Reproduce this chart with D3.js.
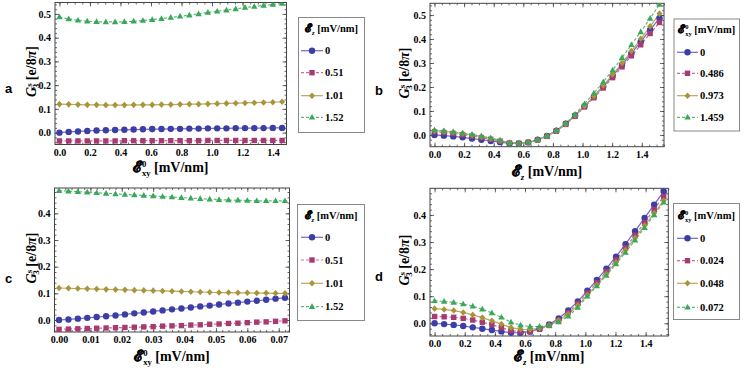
<!DOCTYPE html>
<html><head><meta charset="utf-8">
<script src="https://cdn.jsdelivr.net/npm/d3@7"></script>
<style>body{margin:0;background:#fff}svg{display:block}
svg text{font-family:"Liberation Serif","DejaVu Serif",serif;font-weight:bold}
svg text.sans{font-family:"Liberation Sans","DejaVu Sans",sans-serif}
</style></head>
<body><svg id="chart" width="747" height="374"></svg>
<script>
// ---------- data ----------
const exyA = [0,0.0608,0.1216,0.1824,0.2432,0.304,0.3648,0.4256,0.4864,0.5472,0.608,0.6688,0.7296,0.7904,0.8512,0.912,0.9728,1.0336,1.0944,1.1552,1.216,1.2768,1.3376,1.3984,1.4592];
const ezB = [0,0.0633,0.1267,0.19,0.2533,0.3167,0.38,0.4433,0.5067,0.57,0.6333,0.6967,0.76,0.8233,0.8867,0.95,1.0133,1.0767,1.14,1.2033,1.2667,1.33,1.3933,1.4567,1.52];
const exyC = [0,0.003,0.006,0.009,0.012,0.015,0.018,0.021,0.024,0.027,0.03,0.033,0.036,0.039,0.042,0.045,0.048,0.051,0.054,0.057,0.06,0.063,0.066,0.069,0.072];
const ezD = ezB;

const labelsA = ["0","0.51","1.01","1.52"];
const labelsB = ["0","0.486","0.973","1.459"];
const labelsC = ["0","0.51","1.01","1.52"];
const labelsD = ["0","0.024","0.048","0.072"];

const a0 = [0.000,0.003,0.005,0.007,0.009,0.010,0.011,0.012,0.013,0.014,0.015,0.015,0.016,0.016,0.017,0.017,0.018,0.018,0.018,0.019,0.019,0.019,0.019,0.020,0.020];
const a1 = [-0.035,-0.035,-0.035,-0.035,-0.035,-0.035,-0.035,-0.034,-0.034,-0.034,-0.034,-0.034,-0.034,-0.034,-0.034,-0.034,-0.033,-0.033,-0.033,-0.033,-0.033,-0.033,-0.033,-0.033,-0.033];
const a2 = [0.120,0.119,0.118,0.117,0.117,0.116,0.116,0.116,0.117,0.117,0.117,0.118,0.118,0.119,0.120,0.120,0.121,0.122,0.123,0.124,0.125,0.126,0.127,0.128,0.130];
const a3 = [0.487,0.479,0.473,0.469,0.467,0.466,0.466,0.467,0.469,0.472,0.476,0.480,0.485,0.490,0.495,0.500,0.506,0.511,0.516,0.521,0.527,0.531,0.536,0.540,0.544];

const b0 = [0.000,-0.003,-0.006,-0.010,-0.015,-0.020,-0.025,-0.030,-0.035,-0.035,-0.031,-0.020,-0.004,0.018,0.047,0.081,0.120,0.160,0.202,0.246,0.292,0.340,0.389,0.438,0.487];
const b1 = [0.013,0.010,0.006,0.001,-0.005,-0.011,-0.018,-0.026,-0.034,-0.035,-0.031,-0.021,-0.006,0.016,0.044,0.078,0.117,0.155,0.196,0.239,0.284,0.330,0.376,0.423,0.469];
const b2 = [0.018,0.015,0.011,0.006,0.000,-0.007,-0.015,-0.024,-0.033,-0.035,-0.031,-0.021,-0.005,0.017,0.046,0.081,0.121,0.162,0.206,0.252,0.300,0.350,0.401,0.453,0.506];
const b3 = [0.020,0.017,0.013,0.008,0.002,-0.005,-0.013,-0.022,-0.033,-0.034,-0.030,-0.020,-0.004,0.019,0.049,0.086,0.130,0.174,0.221,0.270,0.322,0.376,0.430,0.486,0.544];

const c0 = [0.000,0.002,0.005,0.008,0.011,0.014,0.017,0.021,0.025,0.028,0.032,0.036,0.040,0.043,0.047,0.051,0.054,0.058,0.062,0.065,0.069,0.072,0.076,0.080,0.083];
const c1 = [-0.035,-0.034,-0.033,-0.032,-0.031,-0.030,-0.029,-0.028,-0.027,-0.026,-0.025,-0.023,-0.022,-0.021,-0.019,-0.018,-0.016,-0.015,-0.013,-0.012,-0.010,-0.008,-0.007,-0.005,-0.003];
const c2 = [0.120,0.119,0.118,0.117,0.116,0.115,0.114,0.113,0.112,0.111,0.110,0.109,0.108,0.107,0.106,0.105,0.104,0.103,0.103,0.102,0.102,0.101,0.101,0.100,0.100];
const c3 = [0.485,0.483,0.481,0.479,0.477,0.475,0.473,0.471,0.469,0.467,0.465,0.463,0.461,0.459,0.457,0.455,0.453,0.451,0.450,0.449,0.448,0.447,0.447,0.447,0.447];

const dd0 = b0;
const dd1 = [0.025,0.024,0.022,0.018,0.012,0.004,-0.005,-0.016,-0.027,-0.031,-0.030,-0.022,-0.008,0.012,0.039,0.073,0.112,0.150,0.191,0.234,0.279,0.325,0.372,0.420,0.469];
const dd2 = [0.054,0.051,0.047,0.040,0.031,0.021,0.009,-0.003,-0.016,-0.022,-0.023,-0.018,-0.007,0.010,0.034,0.066,0.104,0.142,0.183,0.225,0.270,0.315,0.361,0.407,0.453];
const dd3 = [0.083,0.081,0.077,0.071,0.063,0.052,0.038,0.022,0.004,-0.007,-0.012,-0.012,-0.007,0.005,0.026,0.058,0.100,0.138,0.177,0.219,0.262,0.307,0.353,0.400,0.447];

// ---------- styles ----------
const markerCol = ['#3d3da6','#a83a72','#a8953a','#3aa85a'];
const lineCol   = ['#6a6ac4','#c070a0','#b8a860','#60b878'];
const dashes    = [null,'3,2',null,'3,2'];
const shapes    = ['circle','square','diamond','triangle'];

const svg = d3.select('#chart');

function marker(g, shape, x, y, col) {
  if (shape==='circle') g.append('circle').attr('cx',x).attr('cy',y).attr('r',3.2).attr('fill',col);
  else if (shape==='square') g.append('rect').attr('x',x-2.7).attr('y',y-2.7).attr('width',5.4).attr('height',5.4).attr('fill',col);
  else if (shape==='diamond') g.append('path').attr('d',`M${x},${y-3.3}L${x+3},${y}L${x},${y+3.3}L${x-3},${y}Z`).attr('fill',col);
  else g.append('path').attr('d',`M${x},${y-3.4}L${x+3.2},${y+2.3}L${x-3.2},${y+2.3}Z`).attr('fill',col);
}

function eLabel(t, kind, fs) {
  t.append('tspan').text('ℰ').style('font-size',(fs*1.1)+'px').attr('stroke','#000').attr('stroke-width',0.5);
  if (kind==='z') {
    t.append('tspan').text('z').attr('dy', fs*0.25).style('font-size', (fs*0.62)+'px').style('font-style','italic');
    t.append('tspan').text(' [mV/nm]').attr('dy', -fs*0.25);
  } else {
    t.append('tspan').text('0').attr('dy', -fs*0.36).style('font-size', (fs*0.62)+'px');
    t.append('tspan').text('xy').attr('dx', -fs*0.32).attr('dy', fs*0.66).style('font-size', (fs*0.62)+'px');
    t.append('tspan').text(' [mV/nm]').attr('dy', -fs*0.30);
  }
}

function panel(cfg) {
  const g = svg.append('g');
  const x = d3.scaleLinear().domain(cfg.xDom).range([cfg.fx0, cfg.fx1]);
  const y = d3.scaleLinear().domain(cfg.yDom).range([cfg.fy1, cfg.fy0]);
  const id = 'clip'+cfg.name;
  svg.append('clipPath').attr('id',id).append('rect')
     .attr('x',cfg.fx0).attr('y',cfg.fy0).attr('width',cfg.fx1-cfg.fx0).attr('height',cfg.fy1-cfg.fy0);

  const xMinor = d3.range(Math.ceil(cfg.xDom[0]/cfg.xMinorStep), Math.floor(cfg.xDom[1]/cfg.xMinorStep)+1).map(k=>+(k*cfg.xMinorStep).toFixed(5));
  const yMinor = d3.range(Math.ceil(cfg.yDom[0]/0.02), Math.floor(cfg.yDom[1]/0.02)+1).map(k=>+(k*0.02).toFixed(5));
  const axStyle = sel => { sel.attr('font-family',null).attr('font-size',null);
     sel.select('.domain').remove(); sel.selectAll('line').attr('stroke','#444').attr('stroke-width',0.8);
     sel.selectAll('text').style('font-size','10px').attr('fill','#000'); };
  const mk = (axis, vals, size, lab, tr) => {
    const a = axis.tickValues(vals).tickSize(size).tickPadding(4);
    if (!lab) a.tickFormat('');
    g.append('g').attr('transform',tr).call(a).call(axStyle);
  };
  mk(d3.axisBottom(x).tickFormat(d3.format(cfg.xFmt)), cfg.xTicks, -4, true, `translate(0,${cfg.fy1})`);
  mk(d3.axisBottom(x), xMinor, -2, false, `translate(0,${cfg.fy1})`);
  mk(d3.axisTop(x), cfg.xTicks, -4, false, `translate(0,${cfg.fy0})`);
  mk(d3.axisTop(x), xMinor, -2, false, `translate(0,${cfg.fy0})`);
  mk(d3.axisLeft(y).tickFormat(d3.format('.1f')), cfg.yTicks, -4, true, `translate(${cfg.fx0},0)`);
  mk(d3.axisLeft(y), yMinor, -2, false, `translate(${cfg.fx0},0)`);
  mk(d3.axisRight(y), cfg.yTicks, -4, false, `translate(${cfg.fx1},0)`);
  mk(d3.axisRight(y), yMinor, -2, false, `translate(${cfg.fx1},0)`);

  g.append('rect').attr('x',cfg.fx0).attr('y',cfg.fy0).attr('width',cfg.fx1-cfg.fx0).attr('height',cfg.fy1-cfg.fy0)
   .attr('fill','none').attr('stroke','#444').attr('stroke-width',1);

  const plot = g.append('g').attr('clip-path',`url(#${id})`);
  cfg.series.forEach((s,i)=>{
    const line = d3.line().x((d,k)=>x(cfg.xs[k])).y(d=>y(d));
    plot.append('path').datum(s).attr('d',line).attr('fill','none')
      .attr('stroke',lineCol[i]).attr('stroke-width',1.2).attr('stroke-dasharray',dashes[i]);
  });
  cfg.series.forEach((s,i)=>{
    s.forEach((v,k)=>marker(plot, shapes[i], x(cfg.xs[k]), y(v), markerCol[i]));
  });

  const xt = g.append('text').attr('x',(cfg.fx0+cfg.fx1)/2).attr('y',cfg.xTitleY).attr('text-anchor','middle')
    .style('font-size','14px');
  eLabel(xt, cfg.xKind, 14);
  const yt = g.append('text').attr('transform',`translate(${cfg.yTitleX},${(cfg.fy0+cfg.fy1)/2 - 2}) rotate(-90)`)
    .attr('text-anchor','middle').style('font-size','14px');
  yt.append('tspan').text('G').style('font-style','italic');
  yt.append('tspan').text('s').attr('dy',-4.5).style('font-size','9px');
  yt.append('tspan').text('3').attr('dx',-4.8).attr('dy',7.5).style('font-size','9px');
  yt.append('tspan').text(' [e/8').attr('dy',-3);
  yt.append('tspan').text('π').style('font-style','italic');
  yt.append('tspan').text(']');

  g.append('text').attr('class','sans').attr('x',cfg.lab[1]).attr('y',cfg.lab[2]).text(cfg.lab[0])
    .style('font-size','13px');

  const L = cfg.legend;
  g.append('rect').attr('x',L.x0).attr('y',L.y0).attr('width',L.x1-L.x0).attr('height',L.y1-L.y0)
   .attr('fill','#fff').attr('stroke','#888').attr('stroke-width',1);
  const lt = g.append('text').attr('x',(L.x0+L.x1)/2).attr('y',L.titleY).attr('text-anchor','middle')
    .style('font-size','10.5px');
  eLabel(lt, L.kind, 10.5);
  cfg.labels.forEach((lab,i)=>{
    const yy = L.ys[i];
    g.append('line').attr('x1',L.lx0).attr('x2',L.lx1).attr('y1',yy).attr('y2',yy)
      .attr('stroke',lineCol[i]).attr('stroke-width',1.2).attr('stroke-dasharray',dashes[i]);
    marker(g, shapes[i], (L.lx0+L.lx1)/2, yy, markerCol[i]);
    g.append('text').attr('x',L.lx1+2).attr('y',yy+3.5).text(lab).style('font-size','10.5px');
  });
}

const tA = [0,0.2,0.4,0.6,0.8,1.0,1.2,1.4];
const tC = [0,0.01,0.02,0.03,0.04,0.05,0.06,0.07];

panel({name:'a', fx0:55, fx1:286.5, fy0:2.5, fy1:144.5, xDom:[-0.029,1.488], yDom:[-0.050,0.548],
  xTicks:tA, xMinorStep:0.05, yTicks:[0,0.1,0.2,0.3,0.4,0.5], xFmt:'.1f', xs:exyA, series:[a0,a1,a2,a3],
  xKind:'xy', xTitleY:172, yTitleX:36, lab:['a',5,93], labels:labelsA,
  legend:{x0:298.5,x1:364.5,y0:17.5,y1:132.5,titleY:32,kind:'z',ys:[50.7,72.7,95.7,117.3],lx0:301,lx1:323}});
panel({name:'b', fx0:430, fx1:664, fy0:3.3, fy1:146.7, xDom:[-0.0304,1.5504], yDom:[-0.049,0.549],
  xTicks:tA, xMinorStep:0.05, yTicks:[0,0.1,0.2,0.3,0.4,0.5], xFmt:'.1f', xs:ezB, series:[b0,b1,b2,b3],
  xKind:'z', xTitleY:176, yTitleX:409, lab:['b',375,95], labels:labelsB,
  legend:{x0:674,x1:739.5,y0:19,y1:131,titleY:33,kind:'xy',ys:[52.3,73.3,95.7,117.3],lx0:677,lx1:698}});
panel({name:'c', fx0:54.5, fx1:289.5, fy0:188, fy1:332, xDom:[-0.00144,0.07344], yDom:[-0.045,0.495],
  xTicks:tC, xMinorStep:0.002, yTicks:[0,0.1,0.2,0.3,0.4], xFmt:'.2f', xs:exyC, series:[c0,c1,c2,c3],
  xKind:'xy', xTitleY:361, yTitleX:36, lab:['c',5,283], labels:labelsC,
  legend:{x0:297.5,x1:364.5,y0:204.5,y1:320.5,titleY:219,kind:'z',ys:[237.3,260,283.3,306.7],lx0:301,lx1:323}});
panel({name:'d', fx0:430, fx1:668.3, fy0:188.3, fy1:336, xDom:[-0.0304,1.5504], yDom:[-0.047,0.4985],
  xTicks:tA, xMinorStep:0.05, yTicks:[0,0.1,0.2,0.3,0.4], xFmt:'.1f', xs:ezD, series:[dd0,dd1,dd2,dd3],
  xKind:'z', xTitleY:361, yTitleX:409, lab:['d',375,281], labels:labelsD,
  legend:{x0:673.5,x1:739.5,y0:203.5,y1:319.5,titleY:219,kind:'xy',ys:[238.3,260.7,283.3,307.3],lx0:677,lx1:698}});
</script></body></html>
